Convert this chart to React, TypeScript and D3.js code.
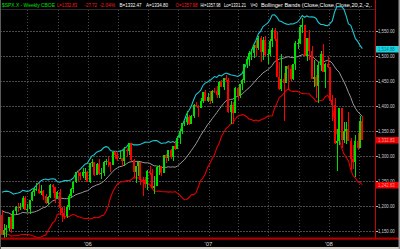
import React from "react";
import * as d3 from "d3";

// Weekly bars ($SPX.X), week-ending dates
const weekDates = [
  "2005-04-15","2005-04-22","2005-04-29","2005-05-06","2005-05-13","2005-05-20","2005-05-27","2005-06-03","2005-06-10","2005-06-17",
  "2005-06-24","2005-07-01","2005-07-08","2005-07-15","2005-07-22","2005-07-29","2005-08-05","2005-08-12","2005-08-19","2005-08-26",
  "2005-09-02","2005-09-09","2005-09-16","2005-09-23","2005-09-30","2005-10-07","2005-10-14","2005-10-21","2005-10-28","2005-11-04",
  "2005-11-11","2005-11-18","2005-11-25","2005-12-02","2005-12-09","2005-12-16","2005-12-23","2005-12-30",
  "2006-01-06","2006-01-13","2006-01-20","2006-01-27","2006-02-03","2006-02-10","2006-02-17","2006-02-24","2006-03-03","2006-03-10",
  "2006-03-17","2006-03-24","2006-03-31","2006-04-07","2006-04-14","2006-04-21","2006-04-28","2006-05-05","2006-05-12","2006-05-19",
  "2006-05-26","2006-06-02","2006-06-09","2006-06-16","2006-06-23","2006-06-30","2006-07-07","2006-07-14","2006-07-21","2006-07-28",
  "2006-08-04","2006-08-11","2006-08-18","2006-08-25","2006-09-01","2006-09-08","2006-09-15","2006-09-22","2006-09-29","2006-10-06",
  "2006-10-13","2006-10-20","2006-10-27","2006-11-03","2006-11-10","2006-11-17","2006-11-24","2006-12-01","2006-12-08","2006-12-15",
  "2006-12-22","2006-12-29",
  "2007-01-05","2007-01-12","2007-01-19","2007-01-26","2007-02-02","2007-02-09","2007-02-16","2007-02-23","2007-03-02","2007-03-09",
  "2007-03-16","2007-03-23","2007-03-30","2007-04-06","2007-04-13","2007-04-20","2007-04-27","2007-05-04","2007-05-11","2007-05-18",
  "2007-05-25","2007-06-01","2007-06-08","2007-06-15","2007-06-22","2007-06-29","2007-07-06","2007-07-13","2007-07-20","2007-07-27",
  "2007-08-03","2007-08-10","2007-08-17","2007-08-24","2007-08-31","2007-09-07","2007-09-14","2007-09-21","2007-09-28","2007-10-05",
  "2007-10-12","2007-10-19","2007-10-26","2007-11-02","2007-11-09","2007-11-16","2007-11-23","2007-11-30","2007-12-07","2007-12-14",
  "2007-12-21","2007-12-28",
  "2008-01-04","2008-01-11","2008-01-18","2008-01-25","2008-02-01","2008-02-08","2008-02-15","2008-02-22","2008-02-29","2008-03-07",
  "2008-03-14","2008-03-21","2008-03-28","2008-04-04","2008-04-11",
];

const opens = [
  1181.20,1142.62,1152.12,1156.85,1178.84,1154.05,1189.28,1198.78,1196.02,1198.11,
  1216.96,1191.57,1194.44,1211.86,1227.92,1233.68,1234.18,1226.42,1230.39,1219.71,
  1205.10,1218.02,1241.48,1237.91,1215.29,1228.81,1195.90,1186.57,1179.59,1198.41,
  1220.14,1234.72,1248.27,1268.25,1265.08,1259.37,1267.32,1268.66,
  1248.29,1285.45,1287.61,1261.49,1283.72,1264.03,1266.99,1287.24,1289.43,1287.23,
  1281.42,1307.25,1302.95,1294.83,1295.50,1289.12,1311.28,1310.61,1325.76,1291.24,
  1267.03,1280.16,1288.22,1252.30,1251.54,1244.50,1270.20,1265.48,1236.20,1240.29,
  1278.55,1279.36,1266.74,1302.30,1295.09,1311.01,1298.92,1319.66,1314.78,1335.85,
  1349.59,1365.62,1368.60,1377.34,1364.30,1380.90,1401.20,1400.95,1396.71,1409.84,
  1427.09,1410.76,
  1418.30,1409.71,1430.73,1430.50,1422.18,1448.39,1438.06,1455.54,1451.19,1387.17,
  1402.84,1386.95,1436.11,1420.86,1443.76,1452.85,1484.35,1494.07,1505.62,1505.85,
  1522.75,1515.73,1536.34,1507.67,1532.91,1502.56,1503.35,1530.44,1552.50,1534.10,
  1458.95,1433.06,1453.64,1445.94,1479.37,1473.99,1453.55,1484.25,1525.75,1526.75,
  1557.59,1561.80,1500.63,1535.28,1509.65,1453.70,1458.74,1440.70,1481.14,1504.66,
  1467.95,1484.46,
  1478.49,1411.63,1401.02,1325.19,1330.61,1395.42,1331.29,1349.99,1353.11,1330.63,
  1293.37,1288.14,1329.51,1315.22,1370.40,
];

const highs = [
  1191.9,1164.0,1162.0,1178.9,1181.5,1191.1,1199.6,1205.6,1206.0,1219.1,
  1219.6,1203.8,1211.9,1229.2,1237.0,1245.2,1245.9,1242.7,1231.4,1223.8,
  1221.0,1243.1,1243.1,1237.9,1229.9,1233.3,1197.1,1197.3,1201.5,1224.7,
  1235.7,1249.6,1268.8,1272.9,1267.7,1275.8,1275.5,1270.0,
  1286.1,1294.9,1287.8,1286.4,1294.9,1275.7,1289.4,1294.2,1297.6,1288.2,
  1310.9,1310.2,1310.9,1310.0,1296.0,1318.2,1316.0,1326.7,1326.7,1294.8,
  1280.5,1290.7,1289.0,1258.6,1257.9,1272.8,1280.4,1273.3,1260.0,1280.4,
  1283.0,1279.4,1302.4,1303.5,1312.0,1314.7,1319.9,1328.5,1340.3,1353.8,
  1366.6,1371.0,1389.5,1381.8,1382.5,1403.8,1407.9,1402.0,1415.9,1427.7,
  1431.8,1427.0,
  1429.4,1431.2,1435.3,1440.7,1449.3,1452.9,1456.0,1461.6,1456.9,1410.2,
  1409.0,1437.7,1437.7,1444.9,1453.1,1484.7,1498.0,1510.3,1513.8,1522.8,
  1532.4,1540.6,1539.1,1538.7,1540.1,1514.8,1533.3,1555.9,1555.9,1547.2,
  1488.3,1503.9,1466.3,1479.4,1482.4,1481.5,1485.0,1530.7,1533.7,1561.9,
  1576.1,1563.0,1535.3,1552.8,1520.5,1492.1,1462.0,1488.9,1510.6,1523.6,
  1485.4,1498.9,
  1479.0,1421.4,1416.0,1354.5,1396.0,1396.0,1368.5,1367.2,1388.3,1335.1,
  1321.7,1341.5,1345.9,1380.9,1380.4,
];

const lows = [
  1141.9,1136.2,1137.8,1150.3,1146.2,1153.4,1185.0,1188.6,1191.5,1194.5,
  1191.4,1188.8,1183.6,1210.5,1220.0,1229.2,1224.0,1222.0,1212.6,1204.3,
  1201.1,1215.4,1227.0,1205.8,1214.0,1181.9,1168.2,1174.6,1175.4,1192.7,
  1215.1,1225.6,1246.6,1249.7,1252.7,1255.5,1252.8,1248.0,
  1245.7,1277.5,1260.9,1261.0,1261.9,1253.6,1259.6,1281.3,1277.1,1268.4,
  1281.4,1293.2,1291.0,1294.8,1280.7,1281.0,1298.0,1302.6,1290.4,1259.0,
  1245.3,1259.8,1243.0,1219.3,1237.0,1233.0,1262.0,1234.5,1224.5,1240.1,
  1261.3,1260.6,1266.7,1286.0,1290.0,1294.5,1290.9,1311.0,1314.7,1324.9,
  1344.0,1360.0,1362.0,1362.0,1363.7,1376.6,1399.8,1377.8,1395.6,1406.0,
  1410.3,1408.6,
  1403.9,1405.4,1425.4,1416.9,1415.1,1437.9,1431.4,1447.2,1386.6,1363.9,
  1363.8,1386.9,1411.3,1416.4,1433.0,1445.1,1476.7,1480.8,1491.4,1495.0,
  1500.9,1512.0,1487.8,1492.7,1500.6,1484.2,1499.5,1517.3,1530.0,1458.8,
  1432.6,1430.0,1370.6,1445.9,1432.0,1449.0,1452.0,1471.3,1513.8,1524.0,
  1546.7,1500.5,1489.6,1492.5,1453.6,1438.5,1415.6,1406.1,1470.5,1467.8,
  1435.7,1475.3,
  1411.2,1370.6,1324.5,1270.1,1322.4,1316.8,1326.5,1324.4,1330.6,1272.7,
  1273.4,1257.0,1312.8,1315.2,1331.2,
];

const closes = [
  1142.62,1152.12,1156.85,1178.84,1154.05,1189.28,1198.78,1196.02,1198.11,1216.96,
  1191.57,1194.44,1211.86,1227.92,1233.68,1234.18,1226.42,1230.39,1219.71,1205.10,
  1218.02,1241.48,1237.91,1215.29,1228.81,1195.90,1186.57,1179.59,1198.41,1220.14,
  1234.72,1248.27,1268.25,1265.08,1259.37,1267.32,1268.66,1248.29,
  1285.45,1287.61,1261.49,1283.72,1264.03,1266.99,1287.24,1289.43,1287.23,1281.42,
  1307.25,1302.95,1294.83,1295.50,1289.12,1311.28,1310.61,1325.76,1291.24,1267.03,
  1280.16,1288.22,1252.30,1251.54,1244.50,1270.20,1265.48,1236.20,1240.29,1278.55,
  1279.36,1266.74,1302.30,1295.09,1311.01,1298.92,1319.66,1314.78,1335.85,1349.59,
  1365.62,1368.60,1377.34,1364.30,1380.90,1401.20,1400.95,1396.71,1409.84,1427.09,
  1410.76,1418.30,
  1409.71,1430.73,1430.50,1422.18,1448.39,1438.06,1455.54,1451.19,1387.17,1402.84,
  1386.95,1436.11,1420.86,1443.76,1452.85,1484.35,1494.07,1505.62,1505.85,1522.75,
  1515.73,1536.34,1507.67,1532.91,1502.56,1503.35,1530.44,1552.50,1534.10,1458.95,
  1433.06,1453.64,1445.94,1479.37,1473.99,1453.55,1484.25,1525.75,1526.75,1557.59,
  1561.80,1500.63,1535.28,1509.65,1453.70,1458.74,1440.70,1481.14,1504.66,1467.95,
  1484.46,1478.49,
  1411.63,1401.02,1325.19,1330.61,1395.42,1331.29,1349.99,1353.11,1330.63,1293.37,
  1288.14,1329.51,1315.22,1370.40,1332.83,
];

// 19 weekly closes before the first visible bar (Bollinger look-back)
const priorCloses = [
  1191.17,1188.00,1194.20,1210.13,1211.92,1186.19,1184.52,1167.87,1171.36,1203.03,
  1205.30,1201.59,1211.37,1222.12,1200.08,1190.21,1171.42,1172.92,1181.20,
];

const yTicks = [1150, 1200, 1250, 1300, 1350, 1400, 1450, 1500, 1550];
const yearLabels = ["'06", "'07", "'08"];
const yearStarts = ["2006-01-01", "2007-01-01", "2008-01-01"];

const headerTexts = [
  "$SPX.X - Weekly  CBOE",
  "L=1332.83",
  "-27.72",
  "-2.04%",
  "B=1332.47",
  "A=1334.80",
  "O=1357.98",
  "Hi=1357.98",
  "Lo=1331.21",
  "V=0",
  "Bollinger Bands (Close,Close,Close,20,2,-2,.",
];
const headerKinds = ["sym", "dn", "dn", "dn", "w", "w", "dn", "w", "w", "w", "w"];

const BB_LEN = 20;
const BB_K = 2;

export default function App() {
  const W = 400;
  const H = 249;
  const parse = d3.utcParse("%Y-%m-%d");
  const x = d3
    .scaleUtc()
    .domain([parse("2006-01-01")!, parse("2008-01-01")!])
    .range([88, 329]);
  const y = d3.scaleLinear().domain([1150, 1550]).range([231, 31]);

  const plotRight = 375;
  const plotTop = 10;
  const plotBottom = 237.5;

  const bars = weekDates.map((d, i) => ({
    date: parse(d)!,
    o: opens[i],
    h: highs[i],
    l: lows[i],
    c: closes[i],
  }));

  const all = priorCloses.concat(closes);
  const bands = closes.map((_, i) => {
    const win = all.slice(i, i + BB_LEN);
    const m = d3.mean(win)!;
    const sd = Math.sqrt(d3.mean(win, (v) => (v - m) * (v - m))!);
    return { date: bars[i].date, m, u: m + BB_K * sd, l: m - BB_K * sd };
  });

  const lineU = d3.line<any>().x((d) => x(d.date)).y((d) => y(d.u));
  const lineM = d3.line<any>().x((d) => x(d.date)).y((d) => y(d.m));
  const lineL = d3.line<any>().x((d) => x(d.date)).y((d) => y(d.l));

  const quarters = d3.utcMonth
    .every(3)!
    .range(parse("2005-07-01")!, parse("2008-05-01")!);

  const fmt = d3.format(",.2f");
  const last = bars[bars.length - 1];
  const lastBand = bands[bands.length - 1];

  const font = "'Liberation Sans', Arial, sans-serif";
  const green = "#00e000";
  const red = "#ff0000";
  const headColor: Record<string, string> = { sym: "#00e000", dn: "#ff1a1a", w: "#ffffff" };
  // header layout (left edge, width) in pixels
  const headX = [2, 57, 84.5, 99.5, 119.5, 146, 175.5, 200.5, 224, 250.5, 261];
  const headW = [53, 20, 12.5, 15.5, 22, 22, 22, 20, 22, 7, 111];
  const hsx = 0.68;
  const sx = 0.74;

  const valueBoxes = [
    { v: lastBand.u, bg: "#19d3e0", fg: "#0a6f86" },
    { v: last.c, bg: "#ee0000", fg: "#ff9a9a" },
    { v: lastBand.l, bg: "#ee0000", fg: "#ff9a9a" },
  ];

  return (
    <svg
      width={W}
      height={H}
      style={{ position: "absolute", left: 0, top: 0, display: "block", background: "#000" }}
      fontFamily={font}
    >
      <rect x={0} y={0} width={W} height={H} fill="#000" />

      {/* horizontal grid */}
      {yTicks.map((t) => (
        <line
          key={"h" + t}
          x1={0}
          x2={plotRight}
          y1={Math.round(y(t)) + 0.5}
          y2={Math.round(y(t)) + 0.5}
          stroke="#4a4a4a"
          strokeDasharray="2 1"
        />
      ))}
      {/* vertical grid */}
      {quarters.map((q, i) => (
        <line
          key={"v" + i}
          x1={Math.round(x(q)) + 0.5}
          x2={Math.round(x(q)) + 0.5}
          y1={plotTop}
          y2={plotBottom}
          stroke="#4a4a4a"
          strokeDasharray="1 2"
        />
      ))}

      {/* header */}
      <line x1={0} x2={plotRight} y1={9.5} y2={9.5} stroke="#2a2a2a" />
      <g transform={`scale(${hsx},1)`} fontSize={6}>
        {headerTexts.map((t, i) => (
          <text
            key={"hd" + i}
            x={headX[i] / hsx}
            y={7.5}
            fill={headColor[headerKinds[i]]}
            textLength={headW[i] / hsx}
            lengthAdjust="spacingAndGlyphs"
          >
            {t}
          </text>
        ))}
      </g>

      {/* Bollinger bands */}
      <path d={lineM(bands) || ""} fill="none" stroke="#9a9a9a" strokeWidth={1} />
      <path d={lineL(bands) || ""} fill="none" stroke="#e00000" strokeWidth={1.1} />
      <path d={lineU(bands) || ""} fill="none" stroke="#1cc3d2" strokeWidth={1.1} />

      {/* candles */}
      {bars.map((b, i) => {
        const cx = Math.round(x(b.date));
        const col = b.c >= b.o ? green : red;
        const top = Math.round(y(Math.max(b.o, b.c)));
        const bot = Math.round(y(Math.min(b.o, b.c)));
        return (
          <g key={"c" + i} shapeRendering="crispEdges">
            <rect x={cx} y={Math.round(y(b.h))} width={1} height={Math.max(1, Math.round(y(b.l)) - Math.round(y(b.h)))} fill={col} />
            <rect x={cx - 1} y={top} width={2} height={Math.max(1, bot - top)} fill={col} />
          </g>
        );
      })}

      {/* right axis */}
      <rect x={plotRight} y={0} width={1} height={plotBottom} fill="#d00000" shapeRendering="crispEdges" />
      {yTicks.map((t) => (
        <g key={"yl" + t}>
          <line x1={plotRight + 1} x2={plotRight + 3} y1={Math.round(y(t)) + 0.5} y2={Math.round(y(t)) + 0.5} stroke="#bbb" />
          <g transform={`scale(${sx},1)`}>
            <text x={378 / sx} y={y(t) + 2} fontSize={5.8} fill="#d0d0d0">
              {fmt(t)}
            </text>
          </g>
        </g>
      ))}
      {valueBoxes.map((bx, i) => (
        <g key={"vb" + i}>
          <rect x={plotRight + 1} y={Math.round(y(bx.v)) - 3} width={W - plotRight - 2} height={6.5} fill={bx.bg} />
          <g transform={`scale(${sx},1)`}>
            <text x={378 / sx} y={y(bx.v) + 2.2} fontSize={5.8} fill={bx.fg}>
              {fmt(bx.v)}
            </text>
          </g>
        </g>
      ))}

      {/* bottom axis */}
      <rect x={0} y={plotBottom} width={W - 1} height={2.2} fill="#b00000" />
      {yearStarts.map((d, i) => (
        <text
          key={"yr" + i}
          x={x(parse(d)!)}
          y={245.5}
          fontSize={6}
          fill="#d8d8d8"
          textAnchor="middle"
        >
          {yearLabels[i]}
        </text>
      ))}

      {/* window frame */}
      <rect x={0} y={247} width={W} height={2} fill="#d4d0c8" />
      <rect x={W - 1.5} y={0} width={1.5} height={H} fill="#9a9a9a" />
      <rect x={0} y={0} width={1} height={H} fill="#5a5a5a" />
    </svg>
  );
}
